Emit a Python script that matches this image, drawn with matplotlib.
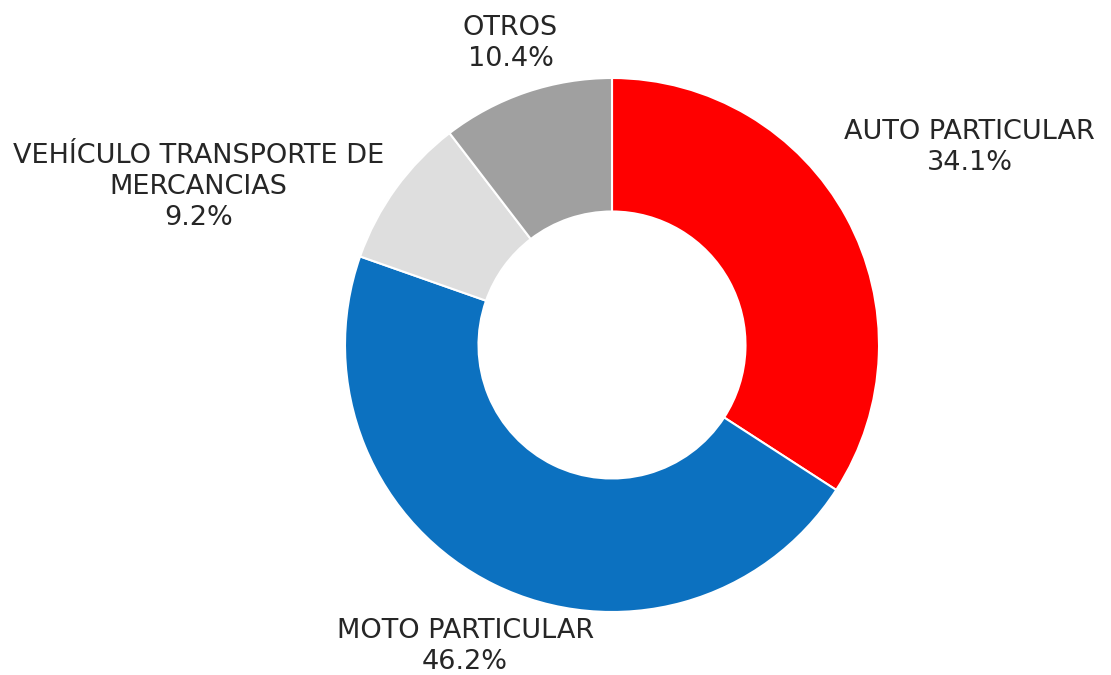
import matplotlib
matplotlib.use('Agg')
import matplotlib.pyplot as plt

labels = ['AUTO PARTICULAR', 'MOTO PARTICULAR',
          'VEHÍCULO TRANSPORTE DE\nMERCANCIAS', 'OTROS']
shares = [34.1, 46.2, 9.2, 10.4]
colors = ['#FF0000', '#0C71C0', '#DEDEDE', '#A0A0A0']

# label centres in data units (pie radius = 1), placed like the original
label_xy = [(1.34, 0.74), (-0.55, -1.13), (-1.55, 0.59), (-0.38, 1.13)]

W, H = 1111, 675
cx, cy, r = 612, 345, 267

fig = plt.figure(figsize=(W / 100, H / 100), dpi=100)
ax = fig.add_axes([(cx - r) / W, (H - cy - r) / H, 2 * r / W, 2 * r / H])
ax.pie(shares, colors=colors, startangle=90, counterclock=False, radius=1,
       wedgeprops=dict(width=0.5, edgecolor='white', linewidth=1.5))
ax.set_xlim(-1, 1)
ax.set_ylim(-1, 1)
ax.set_aspect('equal')

for lab, val, (x, y) in zip(labels, shares, label_xy):
    ax.text(x, y, f'{lab}\n{val:.1f}%', ha='center', va='center',
            fontsize=19.5, family='DejaVu Sans', color='#262626',
            linespacing=1.25, clip_on=False)

fig.savefig('out.png', dpi=100)
